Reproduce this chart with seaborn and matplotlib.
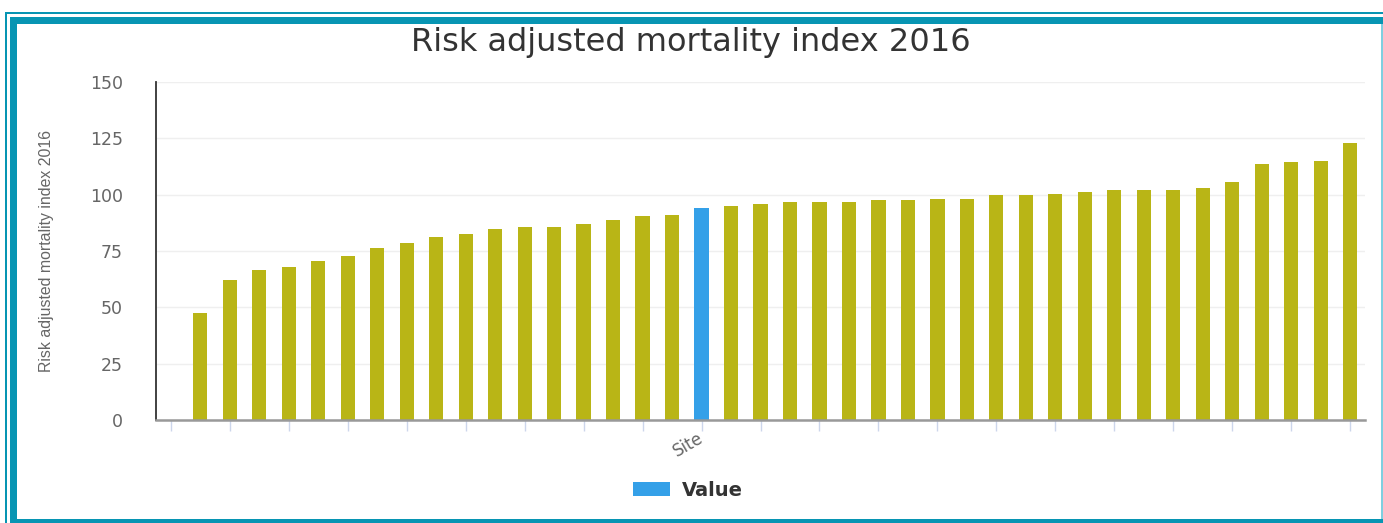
import matplotlib
matplotlib.use("Agg")
import matplotlib.pyplot as plt
from matplotlib import font_manager
from matplotlib.patches import Rectangle, Patch
import seaborn as sns
import pandas as pd

# Risk adjusted mortality index per site, sorted ascending; "Site" is the highlighted one
site_names = [f"Peer {n}" for n in range(1, 18)] + ["Site"] + [f"Peer {n}" for n in range(18, 40)]
mortality_index = [
    47.6, 62.1, 66.6, 67.9, 70.6, 72.8, 76.2, 78.4, 81.2, 82.4,
    84.8, 85.8, 85.8, 87.0, 88.6, 90.4, 90.8, 94.2, 94.8, 96.0,
    96.6, 96.6, 96.6, 97.6, 97.6, 98.2, 98.2, 99.9, 99.9, 100.4,
    101.1, 102.1, 102.1, 102.1, 103.1, 105.5, 113.5, 114.5, 115.1, 122.9,
]
highlight_site = "Site"
y_ticks = [0, 25, 50, 75, 100, 125, 150]

title_text = "Risk adjusted mortality index 2016"
y_label_text = "Risk adjusted mortality index 2016"
legend_text = "Value"

PEER_COLOR = "#b9b516"
SITE_COLOR = "#34a0e8"
FRAME_COLOR = "#0795b3"

df = pd.DataFrame({"site": site_names, "value": mortality_index})
palette = {s: (SITE_COLOR if s == highlight_site else PEER_COLOR) for s in site_names}

sns.set_theme(style="white")
plt.rcParams["font.family"] = ["DejaVu Sans"]

# a condensed face for the vertical axis title, if one is installed
installed = {f.name for f in font_manager.fontManager.ttflist}
ylab_family, ylab_size = "DejaVu Sans", 10.0
for name, size in (("Liberation Sans Narrow", 13.5), ("DejaVu Sans Condensed", 11.5),
                   ("Liberation Sans", 11.4)):
    if name in installed:
        ylab_family, ylab_size = name, size
        break

W, H = 1383, 523
fig = plt.figure(figsize=(W / 100, H / 100), dpi=100)
fig.patch.set_facecolor("white")

# plot area in pixel terms
left_px, right_px, top_px, bottom_px = 156, 1365, 82, 420
ax = fig.add_axes([left_px / W, 1 - bottom_px / H,
                   (right_px - left_px) / W, (bottom_px - top_px) / H])

sns.barplot(data=df, x="site", y="value", hue="site", palette=palette,
            legend=False, width=0.48, saturation=1, linewidth=0, ax=ax)

ax.set_ylim(0, 150)
ax.set_yticks(y_ticks)
ax.set_xlim(-1.5, len(site_names) - 0.5)

# ticks every second category, starting one slot before the first bar
tick_pos = list(range(-1, len(site_names), 2))
tick_lab = [site_names[p] if (0 <= p < len(site_names) and site_names[p] == highlight_site) else ""
            for p in tick_pos]
ax.set_xticks(tick_pos)
ax.set_xticklabels(tick_lab, rotation=30, ha="right", va="center",
                   rotation_mode="anchor", color="#666666", fontsize=12)
ax.tick_params(axis="x", direction="out", length=8, width=1, color="#ccd6eb",
               pad=4, bottom=True)
ax.tick_params(axis="y", length=0, pad=24, labelsize=12.5, labelcolor="#666666")

ax.set_xlabel("")
ax.set_ylabel(y_label_text, family=ylab_family, fontsize=ylab_size,
              color="#666666", va="center")
ax.yaxis.set_label_coords((47 - left_px) / (right_px - left_px), 0.5)

ax.grid(axis="y", color="#efefef", linewidth=1)
ax.grid(axis="x", visible=False)
ax.set_axisbelow(True)

for side in ("top", "right"):
    ax.spines[side].set_visible(False)
ax.spines["left"].set_color("#333333")
ax.spines["left"].set_linewidth(1.3)
ax.spines["bottom"].set_color("#999999")
ax.spines["bottom"].set_linewidth(1.8)

fig.text(691 / W, 1 - 42 / H, title_text, ha="center", va="center",
         fontsize=23, color="#333333")

handle = Patch(facecolor=SITE_COLOR, edgecolor="none")
fig.legend([handle], [legend_text], loc="center", bbox_to_anchor=(688 / W, 1 - 490 / H),
           frameon=False, handlelength=1.9, handleheight=0.75, handletextpad=0.65,
           prop={"weight": "bold", "size": 14}, labelcolor="#333333")


# teal frame around the card
def frame_rect(x0, y0, x1, y1, color):
    fig.add_artist(Rectangle((x0 / W, 1 - y1 / H), (x1 - x0) / W, (y1 - y0) / H,
                             transform=fig.transFigure, facecolor=color,
                             edgecolor="none", zorder=10))


frame_rect(5, 12, W, 14, FRAME_COLOR)        # thin top line
frame_rect(5, 12, 7, H, FRAME_COLOR)         # thin left line
frame_rect(10, 17, W, 24, FRAME_COLOR)       # thick top band
frame_rect(10, 17, 17, H, FRAME_COLOR)       # thick left band
frame_rect(10, 519, W, H, FRAME_COLOR)       # bottom band
frame_rect(1381, 24, W, 519, "#7fcfe0")      # right edge line

fig.savefig("out.png", dpi=100, facecolor="white")
